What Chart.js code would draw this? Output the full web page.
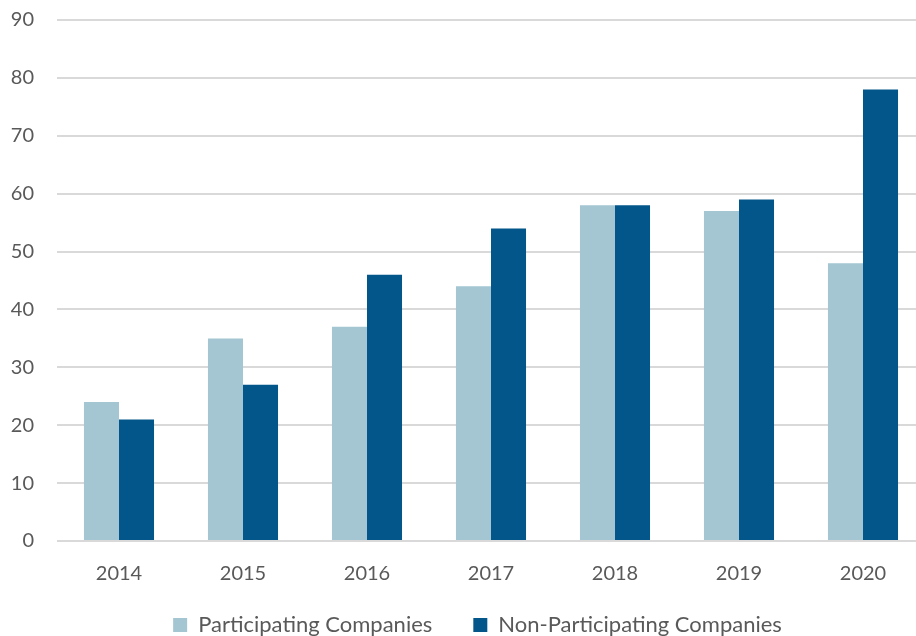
<!DOCTYPE html>
<html>
<head>
<meta charset="utf-8">
<script src="https://cdn.jsdelivr.net/npm/chart.js@4/dist/chart.umd.min.js"></script>
<style>
  html, body { margin: 0; padding: 0; background: #fff; overflow: hidden; }
  #wrap { position: relative; width: 925px; height: 664px; }
</style>
</head>
<body>
<div id="wrap"><canvas id="chart"></canvas></div>
<script>
const years = ['2014', '2015', '2016', '2017', '2018', '2019', '2020'];
const participating = [24, 35, 37, 44, 58, 57, 48];
const nonParticipating = [21, 27, 46, 54, 58, 59, 78];
const yTicks = { min: 0, max: 90, step: 10 };

const ctx = document.getElementById('chart').getContext('2d');
const textColor = '#595959';
const fontFamily = 'Lato, "Open Sans", sans-serif';

// nudge the legend a bit closer to the axis labels and to the right
const legendNudge = {
    id: 'legendNudge',
    afterLayout: chart => {
        const l = chart.legend;
        l.top -= 18; l.bottom -= 18;
        l.left += 15; l.right += 15;
    }
};

new Chart(ctx, {
    type: 'bar',
    data: {
        labels: years,
        datasets: [{
            label: 'Participating Companies',
            data: participating,
            backgroundColor: '#A3C6D2'
        }, {
            label: 'Non-Participating Companies',
            data: nonParticipating,
            backgroundColor: '#02568A'
        }]
    },
    options: {
        responsive: true,
        maintainAspectRatio: false,
        animation: false,
        layout: { padding: { top: 20, right: 0, left: 0, bottom: 0 } },
        datasets: { bar: { categoryPercentage: 0.565, barPercentage: 1 } },
        scales: {
            x: {
                afterFit: scale => { scale.height = 50; },
                grid: { display: false },
                border: { display: false },
                ticks: { color: textColor, font: { family: fontFamily, size: 20 }, padding: 13 }
            },
            y: {
                min: yTicks.min,
                max: yTicks.max,
                afterFit: scale => {
                    scale.width = 57;
                    scale.paddingTop = 0;
                    scale.paddingBottom = 0;
                },
                grid: { color: '#D9D9D9', lineWidth: 2, drawTicks: false },
                border: { display: false },
                ticks: { stepSize: yTicks.step, color: textColor, font: { family: fontFamily, size: 20 }, padding: 23 }
            }
        },
        plugins: {
            legend: {
                position: 'bottom',
                labels: {
                    color: textColor,
                    font: { family: fontFamily, size: 22 },
                    boxWidth: 14,
                    boxHeight: 14,
                    padding: 41
                }
            },
            tooltip: { enabled: false }
        }
    },
    plugins: [legendNudge]
});
</script>
</body>
</html>
